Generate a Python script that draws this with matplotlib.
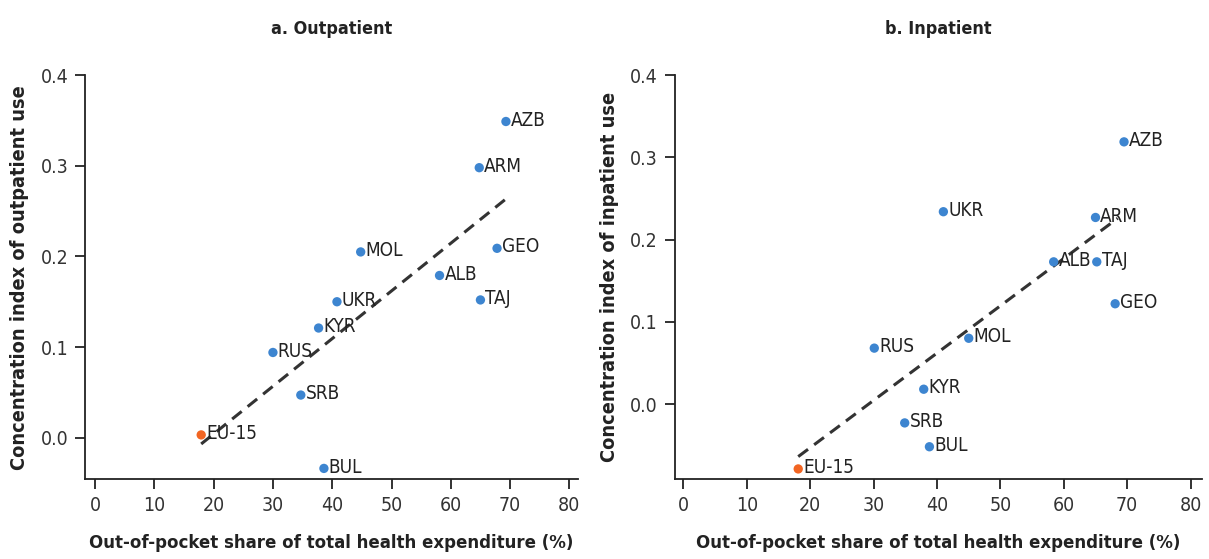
import matplotlib
matplotlib.use("Agg")
import matplotlib.pyplot as plt
from matplotlib import font_manager
from matplotlib.font_manager import FontProperties

# ---- data ----
out_countries = ["AZB", "ARM", "MOL", "GEO", "ALB", "UKR", "TAJ", "KYR", "RUS", "SRB", "EU-15", "BUL"]
out_x = [69.3, 64.8, 44.8, 67.8, 58.1, 40.8, 65.0, 37.7, 30.0, 34.7, 17.9, 38.6]
out_y = [0.349, 0.298, 0.205, 0.209, 0.179, 0.150, 0.152, 0.121, 0.094, 0.047, 0.003, -0.034]
out_trend_x = [17.9, 69.2]
out_trend_y = [-0.007, 0.263]

in_countries = ["AZB", "UKR", "ARM", "ALB", "TAJ", "GEO", "MOL", "RUS", "KYR", "SRB", "BUL", "EU-15"]
in_x = [69.5, 41.0, 65.0, 58.4, 65.2, 68.1, 45.0, 30.1, 37.9, 34.9, 38.8, 18.1]
in_y = [0.319, 0.234, 0.227, 0.173, 0.173, 0.122, 0.080, 0.068, 0.018, -0.023, -0.052, -0.079]
in_trend_x = [18.1, 68.5]
in_trend_y = [-0.064, 0.226]

x_ticks = [0, 10, 20, 30, 40, 50, 60, 70, 80]
y_ticks = [0.0, 0.1, 0.2, 0.3, 0.4]

BLUE = "#3d85d0"
ORANGE = "#f26522"
TXT = "#222222"


# ---- pick a condensed font if one is installed ----
def find_font():
    entries = font_manager.fontManager.ttflist
    reg, bold = None, None
    for e in entries:
        tag = e.name + " " + e.fname
        if not any(w in tag for w in ("Condensed", "Narrow")):
            continue
        if e.style != "normal":
            continue
        w = e.weight if isinstance(e.weight, int) else 400
        if w == 400 and reg is None:
            reg = e.fname
        if w >= 700 and bold is None:
            bold = e.fname
    return reg, bold


reg_path, bold_path = find_font()
FP_REG = FontProperties(fname=reg_path) if reg_path else FontProperties(family="DejaVu Sans")
if bold_path:
    FP_BOLD = FontProperties(fname=bold_path)
elif reg_path:
    FP_BOLD = FontProperties(fname=reg_path, weight="bold")
else:
    FP_BOLD = FontProperties(family="DejaVu Sans", weight="bold")

fig = plt.figure(figsize=(12.09, 5.59), dpi=100)
renderer = fig.canvas.get_renderer()


def fit(text, fp, target, cap):
    p = fig.text(0, 0, text, fontproperties=fp, fontsize=15)
    w = p.get_window_extent(renderer).width
    p.remove()
    return min(cap, 15 * target / w)


XLABEL = "Out-of-pocket share of total health expenditure (%)"
label_size = fit(XLABEL, FP_BOLD, 486.0, 17)
ylab_size = fit("Concentration index of outpatient use", FP_BOLD, 385.0, 18)
tick_size = fit("0.4", FP_REG, 28.0, 17)
pt_size = fit("AZB", FP_REG, 35.0, 16)
title_size = fit("a. Outpatient", FP_BOLD, 121.0, 16)

ax1 = fig.add_axes([0.0703, 0.1426, 0.408, 0.7227])
ax2 = fig.add_axes([0.558, 0.1426, 0.4362, 0.7227])

panels = [
    (ax1, out_countries, out_x, out_y, out_trend_x, out_trend_y, "a. Outpatient",
     "Concentration index of outpatient use", (-1.7, 81.5), (-0.046, 0.4)),
    (ax2, in_countries, in_x, in_y, in_trend_x, in_trend_y, "b. Inpatient",
     "Concentration index of inpatient use", (-1.4, 81.8), (-0.0916, 0.4)),
]

for ax, cs, xs, ys, tx, ty, title, ylabel, xlim, ylim in panels:
    ax.plot(tx, ty, linestyle=(0, (4, 2.5)), color="#333333", lw=2.2, zorder=2)
    cols = [ORANGE if c == "EU-15" else BLUE for c in cs]
    ax.scatter(xs, ys, s=45, c=cols, zorder=3, edgecolors="none")
    for c, x, y in zip(cs, xs, ys):
        ax.annotate(c, (x, y), xytext=(3.5, 1), textcoords="offset points",
                    ha="left", va="center", fontproperties=FP_REG, fontsize=pt_size,
                    color=TXT, zorder=4)
    ax.set_xlim(*xlim)
    ax.set_ylim(*ylim)
    ax.set_xticks(x_ticks)
    ax.set_yticks(y_ticks)
    ax.set_xticklabels([str(v) for v in x_ticks], fontproperties=FP_REG, fontsize=tick_size)
    ax.set_yticklabels([f"{v:.1f}" for v in y_ticks], fontproperties=FP_REG, fontsize=tick_size)
    ax.spines["top"].set_visible(False)
    ax.spines["right"].set_visible(False)
    ax.spines["left"].set_bounds(ylim[0], 0.4)
    for s in ("left", "bottom"):
        ax.spines[s].set_linewidth(1.3)
        ax.spines[s].set_color("#222222")
    ax.tick_params(axis="both", colors="#222222", length=7, width=1.3, pad=5)
    ax.tick_params(axis="both", labelcolor="#333333")
    ax.set_xlabel(XLABEL, fontproperties=FP_BOLD, fontsize=label_size, color=TXT, labelpad=14)
    ax.set_ylabel(ylabel, fontproperties=FP_BOLD, fontsize=ylab_size, color=TXT, labelpad=8)
    ax.set_title(title, fontproperties=FP_BOLD, fontsize=title_size, color=TXT, pad=30)

fig.savefig("out.png", dpi=100)
